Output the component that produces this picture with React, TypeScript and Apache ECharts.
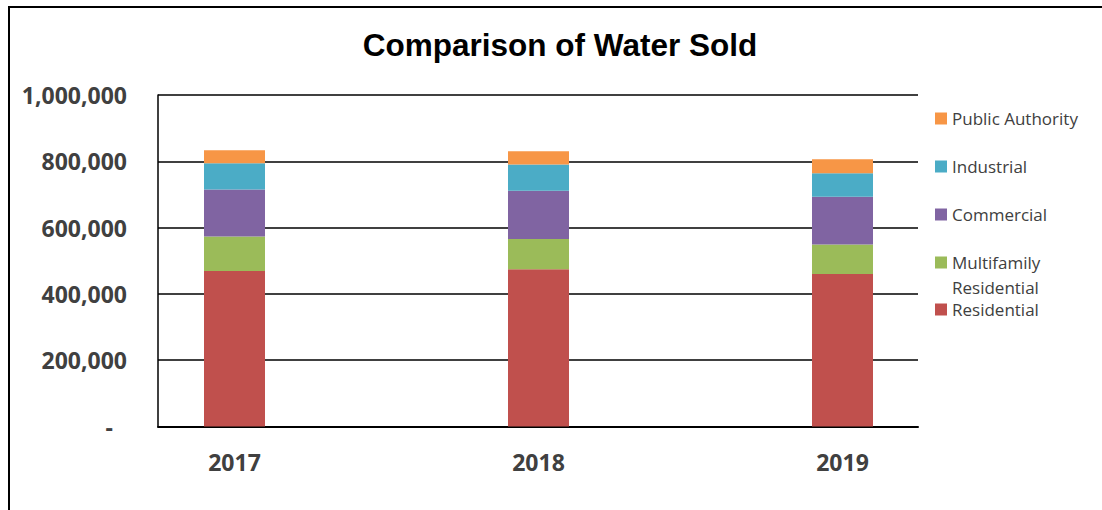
import React, { useEffect, useRef } from "react";
import * as echarts from "echarts";

const years = ["2017", "2018", "2019"];
const residential = [469000, 474000, 460000];
const multifamily = [104000, 91500, 89000];
const commercial = [142000, 146000, 144000];
const industrial = [79000, 78500, 71000];
const publicAuthority = [39000, 40000, 42000];

const yTicks = { min: 0, max: 1000000, interval: 200000 };

const seriesDefs = [
  { name: "Residential", data: residential, color: "#C0504D" },
  { name: "Multifamily Residential", data: multifamily, color: "#9BBB59" },
  { name: "Commercial", data: commercial, color: "#8064A2" },
  { name: "Industrial", data: industrial, color: "#4BACC6" },
  { name: "Public Authority", data: publicAuthority, color: "#F79646" },
];

const labelColor = "#404040";

export default function App() {
  const ref = useRef<HTMLDivElement>(null);
  useEffect(() => {
    if (!ref.current) return;
    const chart = echarts.init(ref.current, null, { renderer: "svg" });
    const legendText = {
      fontFamily: "Open Sans",
      fontSize: 17,
      color: labelColor,
    };
    const boldLabel = {
      fontFamily: "Open Sans",
      fontWeight: "bold",
      fontSize: 23,
      color: labelColor,
    };
    chart.setOption({
      animation: false,
      title: {
        text: "Comparison of Water Sold",
        left: 560,
        top: 29,
        textAlign: "center",
        padding: 0,
        textStyle: {
          fontFamily: "Liberation Sans, Arial",
          fontWeight: "bold",
          fontSize: 31.5,
          color: "#000",
        },
      },
      legend: [
        {
          orient: "vertical",
          left: 935,
          top: 110,
          padding: 0,
          itemGap: 31,
          itemWidth: 12,
          itemHeight: 12,
          icon: "rect",
          selectedMode: false,
          data: ["Public Authority", "Industrial", "Commercial", "Multifamily Residential"],
          formatter: (n: string) => (n === "Multifamily Residential" ? "Multifamily" : n),
          textStyle: legendText,
        },
        {
          orient: "vertical",
          left: 935,
          top: 301,
          padding: 0,
          itemWidth: 12,
          itemHeight: 12,
          icon: "rect",
          selectedMode: false,
          data: ["Residential"],
          textStyle: legendText,
        },
      ],
      graphic: [
        {
          type: "rect",
          shape: { x: 9, y: 7, width: 1200, height: 600 },
          style: { fill: "none", stroke: "#000", lineWidth: 2 },
          silent: true,
        },
        {
          type: "text",
          x: 952,
          y: 287,
          style: {
            text: "Residential",
            font: "17px 'Open Sans'",
            fill: labelColor,
            verticalAlign: "middle",
          },
        },
      ],
      grid: [
        { left: 158, top: 95, width: 760, height: 331.5, containLabel: false },
        { left: 82.5, top: 95, width: 912, height: 331.5, containLabel: false },
      ],
      xAxis: [
        {
          gridIndex: 0,
          type: "value",
          min: 0,
          max: 1,
          axisLine: { show: true, onZero: false, lineStyle: { color: "#000", width: 2 } },
          axisTick: { show: false },
          splitLine: { show: false },
          axisLabel: { show: false },
        },
        {
          gridIndex: 1,
          type: "category",
          data: years,
          axisLine: { show: false },
          axisTick: { show: false },
          splitLine: { show: false },
          axisLabel: { margin: 24, ...boldLabel },
        },
      ],
      yAxis: [
        {
          gridIndex: 0,
          type: "value",
          min: yTicks.min,
          max: yTicks.max,
          interval: yTicks.interval,
          axisLine: { show: true, onZero: false, lineStyle: { color: "#000", width: 1.5 } },
          axisTick: { show: false },
          splitLine: { show: true, lineStyle: { color: "#000", width: 1.5 } },
          axisLabel: {
            margin: 31,
            ...boldLabel,
            formatter: (v: number) => (v === 0 ? "{d|-}" : v.toLocaleString("en-US")),
            rich: {
              d: { ...boldLabel, padding: [0, 14, 0, 0] },
            },
          },
        },
        {
          gridIndex: 1,
          type: "value",
          min: yTicks.min,
          max: yTicks.max,
          interval: yTicks.interval,
          show: false,
          splitLine: { show: false },
        },
      ],
      series: seriesDefs.map((s) => ({
        name: s.name,
        type: "bar",
        stack: "total",
        xAxisIndex: 1,
        yAxisIndex: 1,
        barWidth: 61,
        itemStyle: { color: s.color },
        data: s.data,
      })),
    });
    return () => chart.dispose();
  }, []);
  return (
    <div
      ref={ref}
      style={{ position: "fixed", left: 0, top: 0, width: 1102, height: 510, background: "#fff" }}
    />
  );
}
